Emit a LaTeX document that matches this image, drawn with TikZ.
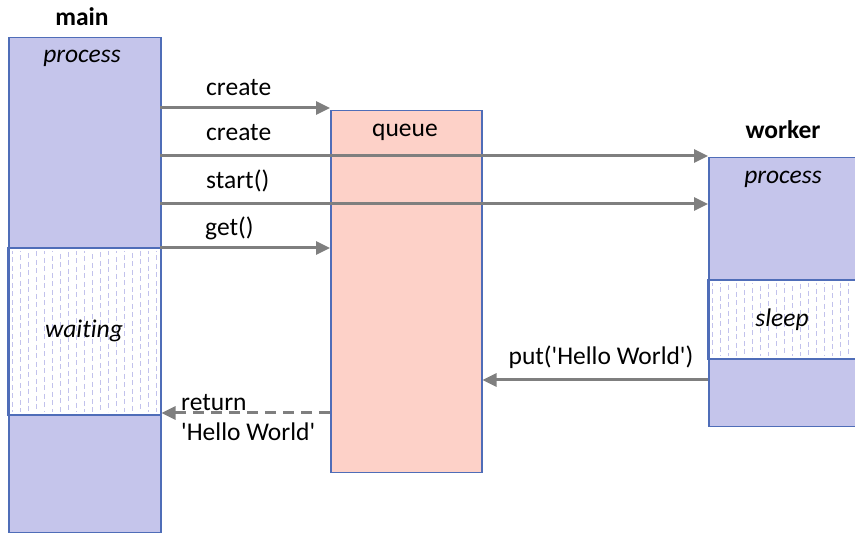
\documentclass[tikz,border=0pt]{standalone}
\usepackage{fontspec}
\setmainfont{Carlito}[Ligatures={NoCommon}]
\usetikzlibrary{arrows.meta,positioning}
\definecolor{lilac}{HTML}{C5C5EB}
\definecolor{dotlilac}{HTML}{C2C2EC}
\definecolor{salmon}{HTML}{FDD1C8}
\definecolor{edgeblue}{HTML}{4F6DB8}
\definecolor{arrowgray}{HTML}{7F7F7F}
\newcommand{\sq}{\textquotesingle}

\begin{document}
\begin{tikzpicture}[x=1pt, y=-1pt,
    box/.style={draw=edgeblue, line width=1.5pt, anchor=north west, inner sep=0pt},
    busy/.style={box, fill=lilac},
    idle/.style={box, fill=white},
    lbl/.style={font=\fontsize{25.5}{30}\selectfont, inner sep=0pt},
    flow/.style={draw=arrowgray, line width=3pt, -{Triangle[length=14pt, width=13pt]}},
    ]
    \useasboundingbox (0,0) rectangle (855,534);
    \clip (0,0) rectangle (855,534);

    % main process
    \node[busy, minimum width=152pt, minimum height=211pt] (mainrun) at (8,37) {};
    \node[idle, minimum width=152pt, minimum height=166pt] (mainwait) at (8,248) {};
    \node[busy, minimum width=152pt, minimum height=118pt] (maindone) at (8,414) {};
    \foreach \x [count=\i] in {12,20,...,158}
      \draw[dotlilac, line width=0.8pt, dash pattern=on 5pt off 3.5pt, dash phase=\i*2pt] (\x,251) -- (\x,412);
    \draw[edgeblue, line width=1.5pt] (mainwait.north west) rectangle (mainwait.south east);

    % queue
    \node[box, fill=salmon, minimum width=151pt, minimum height=362pt] (queue) at (330,110) {};

    % worker process
    \node[busy, minimum width=152pt, minimum height=123pt] (workrun) at (708,157) {};
    \node[idle, minimum width=152pt, minimum height=78pt] (worksleep) at (708,280) {};
    \node[busy, minimum width=152pt, minimum height=68pt] (workdone) at (708,358) {};
    \foreach \x [count=\i] in {712,720,...,858}
      \draw[dotlilac, line width=0.8pt, dash pattern=on 5pt off 3.5pt, dash phase=\i*2pt] (\x,283) -- (\x,356);
    \draw[edgeblue, line width=1.5pt] (worksleep.north west) rectangle (worksleep.south east);

    % Titles
    \node[lbl, font=\fontsize{25.5}{30}\selectfont\bfseries] (maintitle) at (82,17) {main};
    \node[lbl, font=\fontsize{25.5}{30}\selectfont\bfseries] (worktitle) at (783,130) {worker};
    \node[lbl] (queuetitle) at (405,132) {queue};
    \node[lbl, font=\fontsize{25.5}{30}\selectfont\itshape] (mainproc) at (82,58) {process};
    \node[lbl, font=\fontsize{25.5}{30}\selectfont\itshape] (waittext) at (84,331) {waiting};
    \node[lbl, font=\fontsize{25.5}{30}\selectfont\itshape] (workproc) at (783,179) {process};
    \node[lbl, font=\fontsize{25.5}{30}\selectfont\itshape] (sleeptext) at (782,320) {sleep};

    % Edge points
    \coordinate (m1) at (160,108);
    \coordinate (m2) at (160,156);
    \coordinate (m3) at (160,204);
    \coordinate (m4) at (160,248);
    \coordinate (w1) at (708,380);
    \coordinate (q1) at (330,413);

    % Edges
    \draw[flow] (m1) -- (m1 -| queue.west);
    \draw[flow] (m2) -- (m2 -| workrun.west);
    \draw[flow] (m3) -- (m3 -| workrun.west);
    \draw[flow] (m4) -- (m4 -| queue.west);
    \draw[flow] (w1) -- (w1 -| queue.east);
    \draw[flow, dash pattern=on 11pt off 7pt] (q1) -- (q1 -| mainwait.east);

    % Edge labels
    \node[lbl, anchor=west] (create1) at (206,88) {create};
    \node[lbl, anchor=west] (create2) at (206,133) {create};
    \node[lbl, anchor=west] (startl) at (206,181) {start()};
    \node[lbl, anchor=west] (getl) at (205,228) {get()};
    \node[lbl] (putl) at (601,357) {put(\sq Hello World\sq)};
    \node[lbl, anchor=west] (retl) at (181,403) {return};
    \node[lbl, anchor=west] (retv) at (181,432) {\sq Hello World\sq};
  \end{tikzpicture}
\end{document}
